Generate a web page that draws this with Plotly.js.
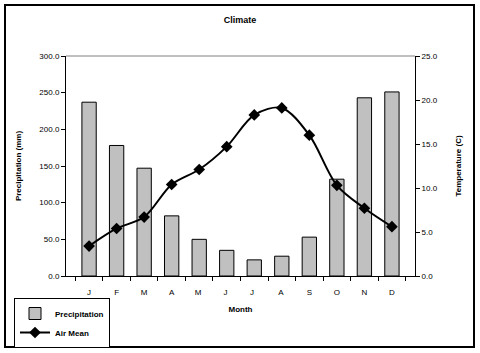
<!DOCTYPE html>
<html><head><meta charset="utf-8">
<script src="https://cdn.plot.ly/plotly-3.0.1.min.js"></script>
<style>html,body{margin:0;padding:0;background:#fff}#chart{width:480px;height:353px}</style>
</head><body><div id="chart"></div>
<script>
const months = ['J','F','M','A','M ','J ','J  ','A ','S','O','N','D'];
const precipitation = [237, 178, 147, 82, 50, 35, 22, 27, 53, 132, 243, 251];
const airMean = [3.4, 5.4, 6.7, 10.4, 12.1, 14.7, 18.3, 19.1, 16.0, 10.3, 7.7, 5.6];

const W = 349, H = 220, L = 66, T = 56;
const px = x => (x - L) / W;
const py = y => (T + H - y) / H;
const font = {family: 'Liberation Sans, Arial, sans-serif', size: 8, color: '#000'};

const data = [
  {type: 'bar', name: '<b>Precipitation</b>', x: months, y: precipitation,
   marker: {color: '#c0c0c0', line: {color: '#000', width: 1}}, width: 0.52},
  {type: 'scatter', mode: 'lines+markers', name: '<b>Air Mean</b>', x: months, y: airMean, yaxis: 'y2',
   line: {color: '#000', width: 2, shape: 'spline', smoothing: 0.9},
   marker: {symbol: 'diamond', size: 9, color: '#000'}}
];

const layout = {
  width: 480, height: 353,
  margin: {l: L, r: 480 - L - W, t: T, b: 353 - T - H, autoexpand: false},
  paper_bgcolor: '#fff', plot_bgcolor: '#fff',
  font: font,
  showlegend: true,
  title: {text: '<b>Climate</b>', font: {family: font.family, size: 9, color: '#000'}, x: 0.5, xanchor: 'center', y: 1 - 20/353, yanchor: 'middle'},
  xaxis: {type: 'category', tickson: 'boundaries', ticks: 'outside', ticklen: 4, tickcolor: '#000',
          ticklabelstandoff: 8,
          showline: true, linecolor: '#000', linewidth: 1, showgrid: false, zeroline: false,
          tickfont: {family: font.family, size: 8, color: '#000'},
          title: {text: '<b>Month</b>', font: {family: font.family, size: 8, color: '#000'}, standoff: 10}},
  yaxis: {range: [0, 300], dtick: 50, tickformat: '.1f', ticks: 'outside', ticklen: 4, tickcolor: '#000',
          showline: true, linecolor: '#000', linewidth: 1, showgrid: false, zeroline: false,
          tickfont: {family: font.family, size: 8, color: '#000'},
          title: {text: '<b>Precipitation (mm)</b>', font: {family: font.family, size: 8, color: '#000'}, standoff: 16}},
  yaxis2: {overlaying: 'y', side: 'right', range: [0, 25], dtick: 5, tickformat: '.1f', ticks: 'outside', ticklen: 4, tickcolor: '#000',
          showline: true, linecolor: '#000', linewidth: 1, showgrid: false, zeroline: false,
          tickfont: {family: font.family, size: 8, color: '#000'},
          title: {text: '<b>Temperature (C)</b>', font: {family: font.family, size: 8, color: '#000'}, standoff: 18}},
  legend: {x: px(14), y: py(298), xanchor: 'left', yanchor: 'top', bgcolor: '#fff',
           bordercolor: '#000', borderwidth: 1, font: {family: font.family, size: 8, color: '#000'},
           tracegroupgap: 0, itemwidth: 30},
  shapes: [
    {type: 'line', xref: 'paper', yref: 'paper', x0: 0, x1: 1, y0: 1, y1: 1, line: {color: '#808080', width: 1}},
    {type: 'rect', xref: 'paper', yref: 'paper', x0: px(5), x1: px(474), y0: py(347), y1: py(5), line: {color: '#000', width: 2}}
  ]
};

Plotly.newPlot('chart', data, layout, {staticPlot: true, displayModeBar: false});
</script></body></html>
